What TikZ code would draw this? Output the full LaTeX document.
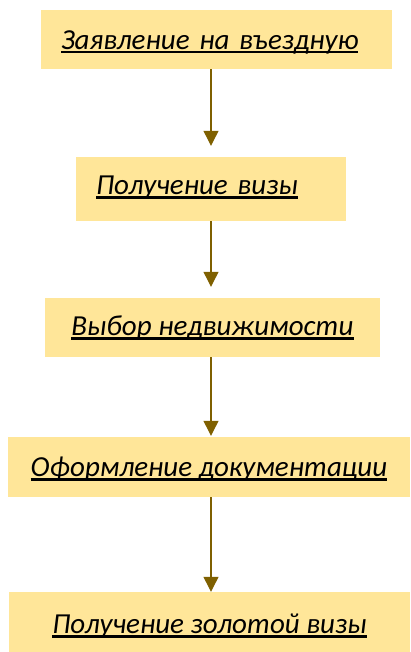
\documentclass[tikz,border=0pt]{standalone}
\usepackage{fontspec}
\setmainfont{Carlito}
\usepackage{tikz}
\usetikzlibrary{arrows.meta}
\definecolor{stepfill}{HTML}{FFE699}
\definecolor{steparrow}{HTML}{7F6000}
\newcommand{\steptext}[1]{\itshape\setbox0\hbox{#1}\rlap{\rule[-4pt]{\wd0}{2.6pt}}\box0}

\begin{document}
\begin{tikzpicture}[x=1pt, y=1pt, every node/.style={rectangle, fill=stepfill, inner sep=0pt, text depth=0pt, font=\fontsize{29}{34}\selectfont}]
	\useasboundingbox (0,0) rectangle (410,-652);
	\node(apply) at (216.5,-39.5) [text width=311, inner xsep=20, minimum height=59, text height=19.6pt, align=left] {\steptext{Заявление на въездную}};
	\node(visa) at (211,-189) [text width=230, inner xsep=20, minimum height=64, text height=12pt, align=left] {\steptext{Получение визы}};
	\node(choice) at (212.5,-327.5) [minimum width=335, minimum height=59, text height=16.6pt] {\steptext{Выбор недвижимости}};
	\node(docs) at (209,-467) [minimum width=402, minimum height=60, text height=19pt] {\steptext{Оформление документации}};
	\node(gold) at (209.5,-622) [minimum width=401, minimum height=60, text height=23pt] {\steptext{Получение золотой визы}};
	\coordinate(axis) at (211,0);
	\draw[steparrow, line width=1.2pt, -{Triangle[width=15pt,length=15pt]}, shorten >=11pt] (axis |- apply.south) -- (axis |- visa.north);
	\draw[steparrow, line width=1.2pt, -{Triangle[width=15pt,length=15pt]}, shorten >=11pt] (axis |- visa.south) -- (axis |- choice.north);
	\draw[steparrow, line width=1.2pt, -{Triangle[width=15pt,length=15pt]}, shorten >=1pt] (axis |- choice.south) -- (axis |- docs.north);
	\draw[steparrow, line width=1.2pt, -{Triangle[width=15pt,length=15pt]}] (axis |- docs.south) -- (axis |- gold.north);
\end{tikzpicture}
\end{document}
